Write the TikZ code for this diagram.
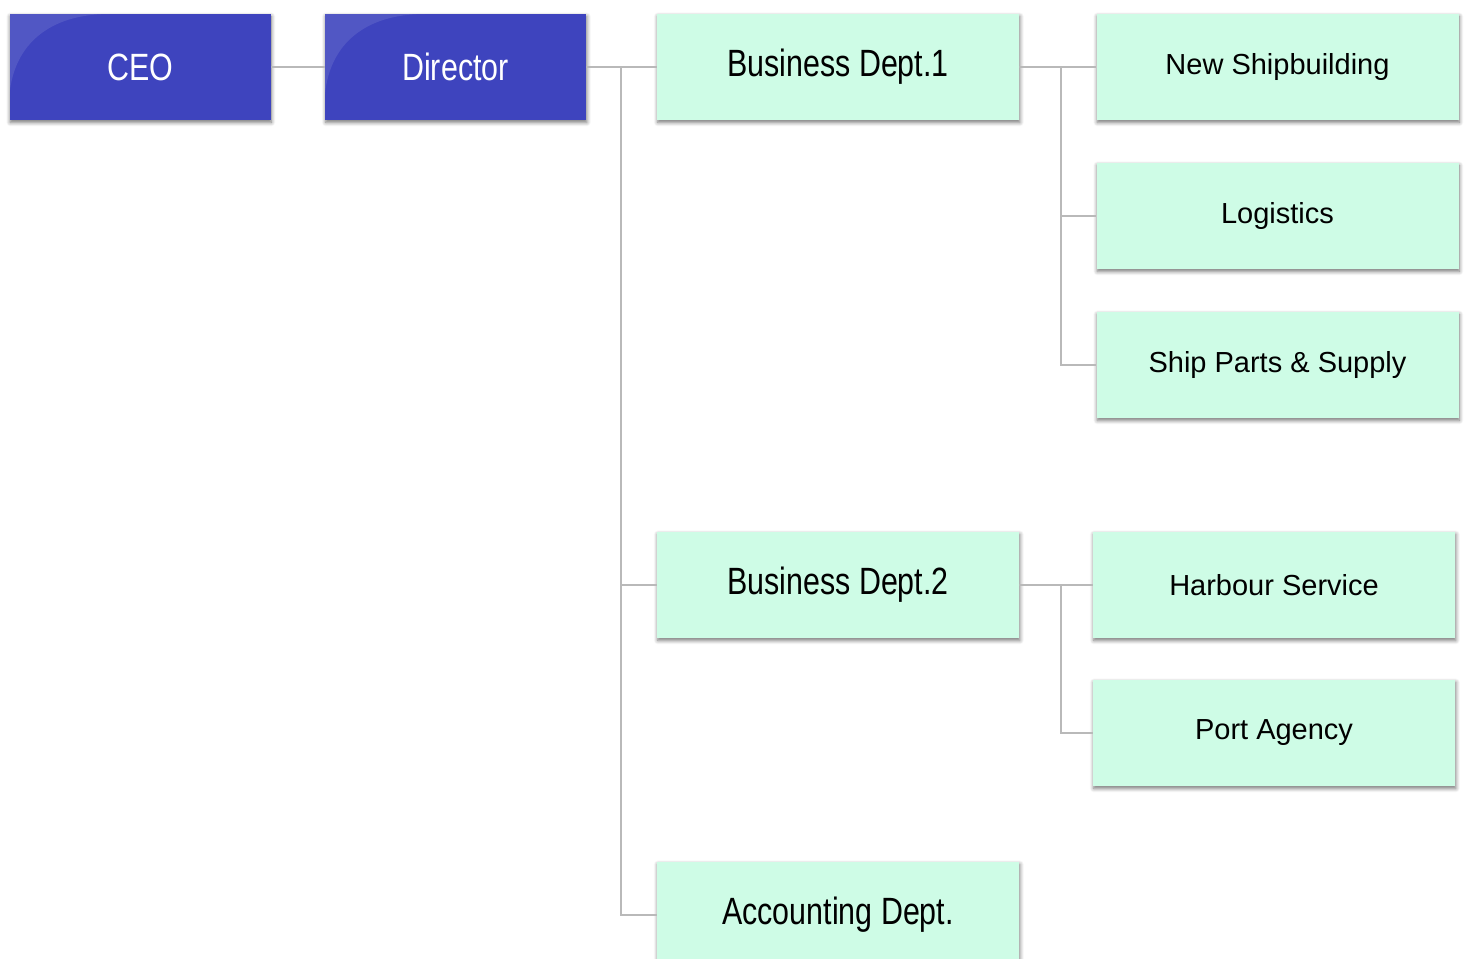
\documentclass[tikz,border=0pt]{standalone}
\usepackage{fontspec}
\setmainfont{Liberation Sans}
\newfontfamily\narrowfont[FakeStretch=0.8]{Liberation Sans}
\usetikzlibrary{shadows.blur}

\definecolor{boss}{RGB}{62,68,190}
\definecolor{mint}{RGB}{206,252,230}
\definecolor{linkgray}{RGB}{185,185,185}

\begin{document}
\begin{tikzpicture}
	[x=0.5pt, y=-0.5pt,
	box/.style={rectangle, inner sep=0pt, minimum height=53pt,
		blur shadow={shadow xshift=0.4pt, shadow yshift=-1.2pt, shadow blur radius=2pt, shadow blur steps=6, shadow opacity=55}},
	head/.style={box, fill=boss, text=white, minimum width=130.5pt,
		font=\narrowfont\fontsize{19}{22}\selectfont,
		path picture={\fill[white, opacity=.1] (path picture bounding box.north west) -- ++(0,80)
			.. controls +(5,-50) and +(-60,0) .. ++(100,-80) -- cycle;}},
	dept/.style={box, fill=mint, minimum width=181pt, font=\narrowfont\fontsize{19}{22}\selectfont},
	unit/.style={box, fill=mint, minimum width=181pt, font=\fontsize{14.5}{17}\selectfont},
	link/.style={draw=linkgray, line width=0.6pt}]
	\useasboundingbox (0,0) rectangle (1466,958);
	\clip (0,0) rectangle (1466,958);
	% top of the chart
	\node[head] (ceo) at (140,67) {CEO};
	\node[head] (dir) at (455.5,67) {Director};
	% departments
	\node[dept] (bd1) at (838,67) {Business Dept.1};
	\node[dept] (bd2) at (838,585) {Business Dept.2};
	\node[dept] (acc) at (838,915) {Accounting Dept.};
	% units
	\node[unit] (ship) at (1277.5,67) {New Shipbuilding};
	\node[unit] (logi) at (1277.5,216) {Logistics};
	\node[unit] (parts) at (1277.5,365) {Ship Parts \& Supply};
	\node[unit] (harb) at (1274,585) {Harbour Service};
	\node[unit] (port) at (1274,733) {Port Agency};
	% connectors
	\coordinate (trunk) at (621,67);
	\coordinate (sub1) at (1061,67);
	\coordinate (sub2) at (1061,585);
	\draw[link] (ceo) -- (dir);
	\draw[link] (dir) -- (bd1);
	\draw[link] (trunk) |- (bd2.west);
	\draw[link] (trunk) |- (acc.west);
	\draw[link] (bd1) -- (ship);
	\draw[link] (sub1) |- (logi.west);
	\draw[link] (sub1) |- (parts.west);
	\draw[link] (bd2) -- (harb);
	\draw[link] (sub2) |- (port.west);
\end{tikzpicture}
\end{document}
